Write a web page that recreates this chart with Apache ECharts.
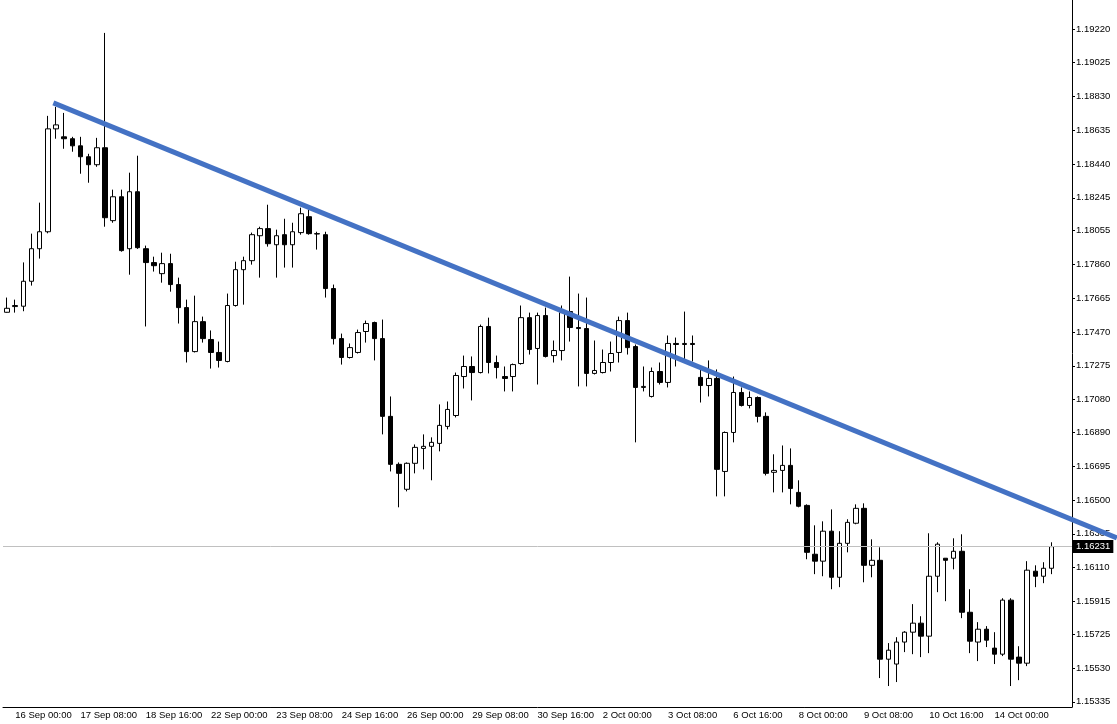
<!DOCTYPE html>
<html>
<head>
<meta charset="utf-8">
<script src="https://cdn.jsdelivr.net/npm/echarts@6/dist/echarts.min.js"></script>
<style>
  html, body { margin: 0; padding: 0; background: #fff; }
  #main { width: 1117px; height: 724px; }
</style>
</head>
<body>
<div id="main"></div>
<script>
// trading days on the chart, H4 candles
var days = ['15 Sep', '16 Sep', '17 Sep', '18 Sep', '19 Sep', '22 Sep', '23 Sep', '24 Sep', '25 Sep', '26 Sep',
  '29 Sep', '30 Sep', '1 Oct', '2 Oct', '3 Oct', '6 Oct', '7 Oct', '8 Oct', '9 Oct', '10 Oct',
  '13 Oct', '14 Oct', '15 Oct'];
var hours = ['00:00', '04:00', '08:00', '12:00', '16:00', '20:00'];

// [open, close, low, high]
var ohlc = [
  [1.17584, 1.17607, 1.17582, 1.17669], [1.17617, 1.17623, 1.17582, 1.17657], [1.17619, 1.17763, 1.17590, 1.17872],
  [1.17763, 1.17951, 1.17738, 1.18038], [1.17951, 1.18049, 1.17894, 1.18217], [1.18049, 1.18643, 1.18040, 1.18718],
  [1.18643, 1.18666, 1.18586, 1.18770], [1.18597, 1.18586, 1.18528, 1.18735], [1.18586, 1.18545, 1.18511, 1.18597],
  [1.18545, 1.18482, 1.18384, 1.18597], [1.18482, 1.18436, 1.18332, 1.18499], [1.18436, 1.18534, 1.18424, 1.18591],
  [1.18534, 1.18130, 1.18078, 1.19197], [1.18113, 1.18251, 1.18101, 1.18292], [1.18251, 1.17940, 1.17934, 1.18292],
  [1.17951, 1.18280, 1.17801, 1.18390], [1.18280, 1.17957, 1.17950, 1.18488], [1.17951, 1.17871, 1.17502, 1.17969],
  [1.17871, 1.17853, 1.17819, 1.17905], [1.17807, 1.17865, 1.17755, 1.17928], [1.17865, 1.17744, 1.17703, 1.17922],
  [1.17744, 1.17611, 1.17519, 1.17784], [1.17611, 1.17357, 1.17294, 1.17657], [1.17357, 1.17530, 1.17352, 1.17680],
  [1.17530, 1.17432, 1.17409, 1.17559], [1.17427, 1.17352, 1.17259, 1.17479], [1.17352, 1.17306, 1.17265, 1.17415],
  [1.17300, 1.17623, 1.17295, 1.17692], [1.17623, 1.17830, 1.17617, 1.17876], [1.17830, 1.17882, 1.17628, 1.17905],
  [1.17882, 1.18032, 1.17859, 1.18044], [1.18026, 1.18067, 1.17784, 1.18078], [1.18067, 1.17980, 1.17963, 1.18205],
  [1.17974, 1.18026, 1.17784, 1.18061], [1.18032, 1.17974, 1.17842, 1.18124], [1.17974, 1.18049, 1.17842, 1.18101],
  [1.18044, 1.18153, 1.18032, 1.18188], [1.18136, 1.18038, 1.18032, 1.18176], [1.18038, 1.18036, 1.17946, 1.18049],
  [1.18032, 1.17721, 1.17669, 1.18049], [1.17721, 1.17432, 1.17398, 1.17744], [1.17432, 1.17323, 1.17282, 1.17461],
  [1.17323, 1.17380, 1.17317, 1.17404], [1.17352, 1.17467, 1.17346, 1.17484], [1.17473, 1.17519, 1.17409, 1.17536],
  [1.17525, 1.17432, 1.17306, 1.17530], [1.17432, 1.16983, 1.16879, 1.17542], [1.16983, 1.16706, 1.16665, 1.17098],
  [1.16706, 1.16654, 1.16458, 1.16717], [1.16562, 1.16712, 1.16550, 1.16717], [1.16712, 1.16804, 1.16654, 1.16821],
  [1.16798, 1.16810, 1.16677, 1.16879], [1.16810, 1.16833, 1.16614, 1.16862], [1.16827, 1.16931, 1.16781, 1.17052],
  [1.16925, 1.17023, 1.16908, 1.17069], [1.16988, 1.17219, 1.16977, 1.17236], [1.17213, 1.17271, 1.17144, 1.17334],
  [1.17271, 1.17236, 1.17075, 1.17329], [1.17236, 1.17502, 1.17231, 1.17513], [1.17502, 1.17294, 1.17231, 1.17553],
  [1.17294, 1.17265, 1.17202, 1.17334], [1.17213, 1.17202, 1.17127, 1.17271], [1.17213, 1.17282, 1.17127, 1.17288],
  [1.17288, 1.17553, 1.17282, 1.17623], [1.17553, 1.17369, 1.17340, 1.17582], [1.17375, 1.17565, 1.17167, 1.17582],
  [1.17565, 1.17329, 1.17323, 1.17611], [1.17334, 1.17363, 1.17294, 1.17421], [1.17363, 1.17582, 1.17306, 1.17623],
  [1.17588, 1.17496, 1.17415, 1.17790], [1.17496, 1.17490, 1.17156, 1.17692], [1.17490, 1.17231, 1.17156, 1.17669],
  [1.17231, 1.17248, 1.17225, 1.17421], [1.17236, 1.17294, 1.17231, 1.17369], [1.17294, 1.17346, 1.17242, 1.17415],
  [1.17352, 1.17536, 1.17294, 1.17559], [1.17536, 1.17380, 1.17340, 1.17582], [1.17386, 1.17150, 1.16833, 1.17398],
  [1.17150, 1.17156, 1.17127, 1.17271], [1.17098, 1.17242, 1.17092, 1.17265], [1.17242, 1.17179, 1.17167, 1.17294],
  [1.17179, 1.17404, 1.17150, 1.17450], [1.17404, 1.17398, 1.17271, 1.17438], [1.17398, 1.17404, 1.17300, 1.17588],
  [1.17404, 1.17398, 1.17300, 1.17450], [1.17208, 1.17161, 1.17063, 1.17254], [1.17161, 1.17202, 1.17098, 1.17306],
  [1.17202, 1.16677, 1.16521, 1.17254], [1.16665, 1.16890, 1.16521, 1.16896], [1.16890, 1.17121, 1.16833, 1.17213],
  [1.17121, 1.17046, 1.17040, 1.17150], [1.17046, 1.17092, 1.17029, 1.17127], [1.17092, 1.16983, 1.16948, 1.17098],
  [1.16983, 1.16654, 1.16642, 1.17006], [1.16660, 1.16671, 1.16544, 1.16764], [1.16671, 1.16700, 1.16544, 1.16815],
  [1.16700, 1.16567, 1.16475, 1.16798], [1.16544, 1.16464, 1.16458, 1.16614], [1.16469, 1.16198, 1.16158, 1.16475],
  [1.16187, 1.16147, 1.16072, 1.16354], [1.16147, 1.16320, 1.16060, 1.16377], [1.16320, 1.16054, 1.15985, 1.16446],
  [1.16054, 1.16250, 1.15997, 1.16320], [1.16250, 1.16371, 1.16198, 1.16389], [1.16366, 1.16452, 1.16360, 1.16475],
  [1.16452, 1.16123, 1.16025, 1.16481], [1.16123, 1.16152, 1.16054, 1.16273], [1.16152, 1.15581, 1.15472, 1.16227],
  [1.15581, 1.15633, 1.15426, 1.15674], [1.15553, 1.15680, 1.15449, 1.15708], [1.15680, 1.15737, 1.15622, 1.15743],
  [1.15737, 1.15789, 1.15610, 1.15899], [1.15789, 1.15714, 1.15593, 1.15829], [1.15714, 1.16060, 1.15616, 1.16308],
  [1.16060, 1.16245, 1.15968, 1.16256], [1.16164, 1.16152, 1.15916, 1.16164], [1.16164, 1.16204, 1.16100, 1.16279],
  [1.16204, 1.15852, 1.15818, 1.16302], [1.15852, 1.15685, 1.15616, 1.15985], [1.15680, 1.15754, 1.15570, 1.15795],
  [1.15754, 1.15691, 1.15651, 1.15772], [1.15645, 1.15610, 1.15553, 1.15737], [1.15610, 1.15922, 1.15599, 1.15933],
  [1.15922, 1.15581, 1.15426, 1.15933], [1.15593, 1.15558, 1.15460, 1.15656], [1.15558, 1.16095, 1.15541, 1.16147],
  [1.16089, 1.16060, 1.15997, 1.16123], [1.16060, 1.16106, 1.16020, 1.16141], [1.16106, 1.16231, 1.16072, 1.16256]
];

var priceTicks = [1.15335, 1.15530, 1.15725, 1.15915, 1.16110, 1.16305, 1.16500, 1.16695, 1.16890, 1.17080,
  1.17275, 1.17470, 1.17665, 1.17860, 1.18055, 1.18245, 1.18440, 1.18635, 1.18830, 1.19025, 1.19220];
var lastPrice = 1.16231;

// hand drawn trend line: [candle index, price]
var trendLine = [[5.67, 1.18793], [136.0, 1.16281]];

var slots = [];
days.forEach(function (d) {
  hours.forEach(function (h) { slots.push(d + ' ' + h); });
});
var categories = slots.slice(5, 5 + ohlc.length);
categories.push(' ', '  '); // chart shift

var font = 'Liberation Sans, Arial, sans-serif';
var W = 1117, gridLeft = 3, gridRight = 45;
var priceMin = 1.15305, priceMax = 1.19387;
// overlay grid runs to the window edge, with the same candle spacing
var overlayMax = -0.5 + categories.length * (W - gridLeft) / (W - gridLeft - gridRight);

var myChart = echarts.init(document.getElementById('main'));
var option = {
  animation: false,
  backgroundColor: '#fff',
  grid: [
    { left: gridLeft, right: gridRight, top: 0, bottom: 17 },
    { left: gridLeft, right: 0, top: 0, bottom: 17 }
  ],
  xAxis: [
    {
      type: 'category',
      gridIndex: 0,
      data: categories,
      boundaryGap: true,
      axisLine: { lineStyle: { color: '#000', width: 1 } },
      axisTick: {
        alignWithLabel: true, length: 3, lineStyle: { color: '#000' },
        interval: function (i) { return (i - 1) % 8 === 0; }
      },
      axisLabel: {
        interval: function (i) { return (i - 1) % 8 === 0; },
        align: 'left', margin: 3, color: '#000', fontSize: 9.5, fontFamily: font
      },
      splitLine: { show: false }
    },
    {
      type: 'value',
      gridIndex: 1,
      min: -0.5,
      max: overlayMax,
      show: false
    }
  ],
  yAxis: [
    {
      type: 'value',
      gridIndex: 0,
      position: 'right',
      min: priceMin,
      max: priceMax,
      axisLine: { show: true, onZero: false, lineStyle: { color: '#000', width: 1 } },
      axisTick: { show: true, length: 3, lineStyle: { color: '#000' }, customValues: priceTicks },
      axisLabel: {
        customValues: priceTicks, margin: 4, color: '#000', fontSize: 9.5, fontFamily: font,
        formatter: function (v) { return v.toFixed(5); }
      },
      splitLine: { show: false }
    },
    {
      type: 'value',
      gridIndex: 1,
      min: priceMin,
      max: priceMax,
      show: false
    }
  ],
  series: [
    {
      type: 'candlestick',
      xAxisIndex: 0,
      yAxisIndex: 0,
      data: ohlc,
      barWidth: 5,
      itemStyle: {
        color: '#fff',
        color0: '#000',
        borderColor: '#000',
        borderColor0: '#000',
        borderWidth: 1
      },
      markLine: {
        silent: true,
        symbol: 'none',
        precision: 5,
        lineStyle: { color: '#c0c0c0', width: 1, type: 'solid' },
        label: {
          show: true,
          position: 'end',
          distance: 1,
          formatter: function () { return lastPrice.toFixed(5); },
          backgroundColor: '#000',
          color: '#fff',
          padding: [2, 3, 1, 3],
          fontSize: 9.5,
          fontFamily: font
        },
        data: [{ yAxis: lastPrice }]
      }
    },
    {
      type: 'line',
      xAxisIndex: 1,
      yAxisIndex: 1,
      data: trendLine,
      symbol: 'none',
      silent: true,
      z: 10,
      lineStyle: { color: '#4472C4', width: 5 }
    }
  ]
};
myChart.setOption(option, true);
</script>
</body>
</html>
